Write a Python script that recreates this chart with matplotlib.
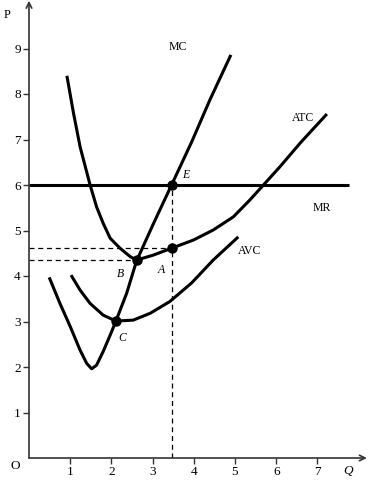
import numpy as np
import matplotlib
matplotlib.use('Agg')
import matplotlib.pyplot as plt

plt.rcParams['font.family'] = ['Liberation Serif', 'DejaVu Serif']

# curves (Q, P)
mc_q = [0.49, 0.75, 1.00, 1.24, 1.40, 1.52, 1.64, 1.80, 1.97, 2.11, 2.37, 2.61, 3.02, 3.46, 3.95, 4.39, 4.90]
mc_p = [3.97, 3.40, 2.89, 2.37, 2.08, 1.96, 2.04, 2.34, 2.70, 3.01, 3.62, 4.33, 5.15, 6.00, 6.95, 7.87, 8.86]

atc_q = [0.92, 1.08, 1.24, 1.48, 1.64, 1.80, 1.97, 2.21, 2.45, 2.61, 3.02, 3.46,
         3.99, 4.47, 4.96, 5.36, 5.69, 6.09, 6.58, 7.23]
atc_p = [8.40, 7.58, 6.84, 6.01, 5.52, 5.16, 4.83, 4.61, 4.43, 4.35, 4.46, 4.61,
         4.79, 5.01, 5.30, 5.67, 6.00, 6.40, 6.92, 7.56]

avc_q = [1.02, 1.24, 1.48, 1.80, 2.11, 2.53, 2.94, 3.42, 3.95, 4.47, 5.08]
avc_p = [4.02, 3.69, 3.40, 3.14, 3.01, 3.03, 3.18, 3.44, 3.85, 4.35, 4.86]

mr_p = 6.0
mr_end = 7.77

# marked points
pt_names = ['E', 'A', 'B', 'C']
pt_q = [3.46, 3.46, 2.61, 2.11]
pt_p = [6.00, 4.61, 4.35, 3.01]

xticks = [1, 2, 3, 4, 5, 6, 7]
yticks = [1, 2, 3, 4, 5, 6, 7, 8, 9]

fig = plt.figure(figsize=(3.69, 4.80), dpi=100)
ax = fig.add_axes([29 / 369, 22 / 480, 340 / 369, 458 / 480])
ax.set_xlim(0, 340 / 41.2)
ax.set_ylim(0, 458 / 45.5)
for s in ax.spines.values():
    s.set_visible(False)

axcol = '#333333'
ax.annotate('', xy=(8.2, 0), xytext=(0, 0),
            arrowprops=dict(arrowstyle='->', lw=1.2, color=axcol, shrinkA=0, shrinkB=0))
ax.annotate('', xy=(0, 10.05), xytext=(0, 0),
            arrowprops=dict(arrowstyle='->', lw=1.2, color=axcol, shrinkA=0, shrinkB=0))

ax.set_xticks(xticks)
ax.set_yticks(yticks)
ax.tick_params(direction='out', length=4, width=1, color=axcol, labelsize=9.5, pad=2)

lw = 2.2
for q, p in [(mc_q, mc_p), (atc_q, atc_p), (avc_q, avc_p)]:
    ax.plot(q, p, color='black', lw=lw, solid_capstyle='butt', solid_joinstyle='round')
ax.plot([0, mr_end], [mr_p, mr_p], color='black', lw=lw, solid_capstyle='butt')

dash = dict(color='black', lw=0.9, linestyle=(0, (4, 3)))
ax.plot([0, pt_q[1]], [pt_p[1], pt_p[1]], **dash)
ax.plot([0, pt_q[2]], [pt_p[2], pt_p[2]], **dash)
ax.plot([pt_q[0], pt_q[0]], [0, pt_p[0]], **dash)

ax.plot(pt_q, pt_p, 'o', color='black', ms=6.5, zorder=5)

lab = dict(fontsize=8.5, ha='center', va='center')
ax.text(3.62, 9.03, 'MC', **lab)
ax.text(6.65, 7.47, 'ATC', **lab)
ax.text(7.11, 5.49, 'MR', **lab)
ax.text(5.36, 4.55, 'AVC', **lab)
ax.text(3.81, 6.22, 'E', style='italic', **lab)
ax.text(3.20, 4.13, 'A', style='italic', **lab)
ax.text(2.23, 4.04, 'B', style='italic', **lab)
ax.text(2.26, 2.64, 'C', style='italic', **lab)

ax.text(-0.53, 9.74, 'P', fontsize=9, ha='center', va='center', clip_on=False)
ax.text(-0.34, -0.18, 'O', fontsize=9.5, ha='center', va='center', clip_on=False)
ax.text(7.74, -0.29, 'Q', fontsize=9.5, style='italic', ha='center', va='center', clip_on=False)

fig.savefig('out.png', dpi=100)
